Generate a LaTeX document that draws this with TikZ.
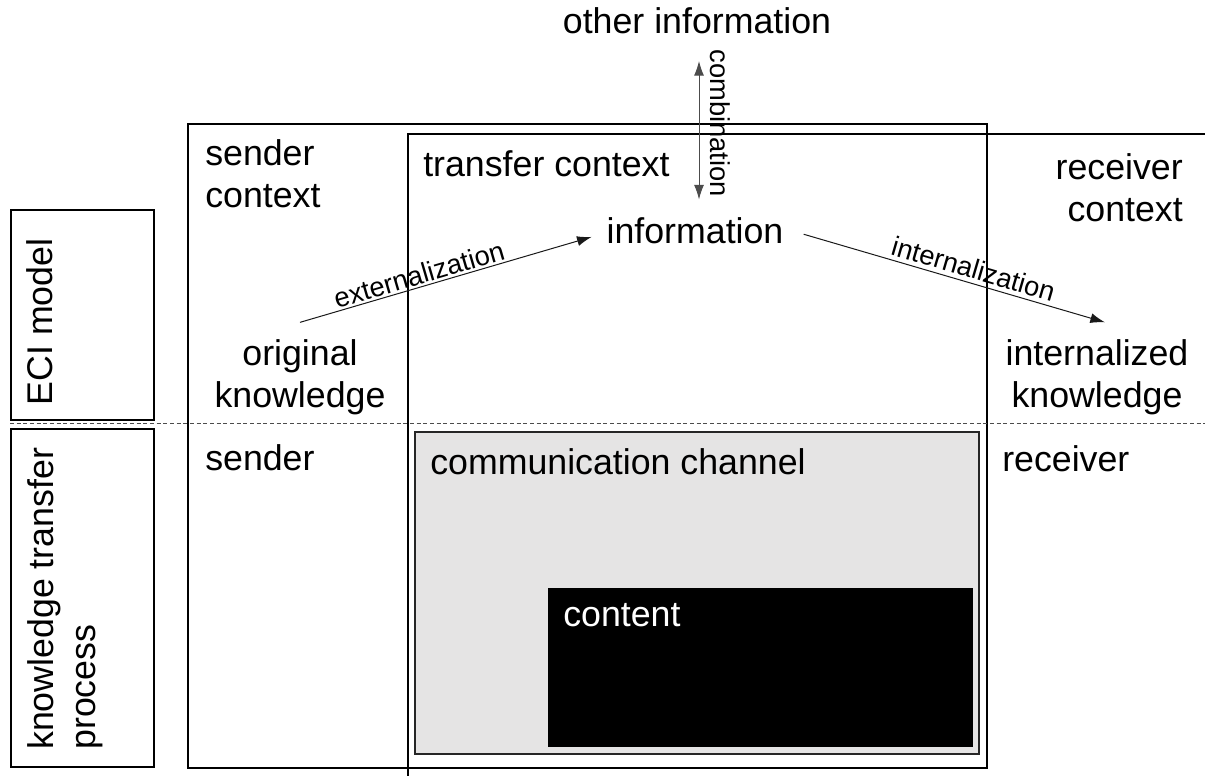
\documentclass[tikz,border=0pt]{standalone}
\usepackage{fontspec}
\setmainfont{Liberation Sans}
\usetikzlibrary{arrows.meta}
\begin{document}
\begin{tikzpicture}[x=0.75pt,y=-0.75pt,
  big/.style={font=\fontsize{26.8}{32}\selectfont, inner sep=0pt},
  small/.style={font=\fontsize{20.5}{24}\selectfont, inner sep=0pt},
  heavy/.style={draw, line width=1.3pt},
  thin/.style={draw, line width=0.8pt},
  flow/.style={draw=black!90, line width=0.75pt, -{Latex[length=11pt,width=7.5pt]}},
  twoway/.style={draw=black!70, line width=0.75pt, {Latex[length=11pt,width=7.5pt]}-{Latex[length=11pt,width=7.5pt]}}
]
\useasboundingbox (0,0) rectangle (1205,776);

% row labels on the left
\draw[heavy] (11,210) rectangle (154,420);
\draw[heavy] (11,429) rectangle (154,767);
\node[big, rotate=90] (eci) at (40,322) {ECI model};
\node[big, rotate=90, anchor=north west, align=left] (ktp) at (27,750) {knowledge transfer\\process};

% sender context frame
\draw[heavy] (188,124) rectangle (987,768);
% transfer context frame, open to the right and below
\draw[thin] (1205,134) -- (408,134) -- (408,776);

% separator between the two rows
\draw[black!70, line width=0.6pt, dash pattern=on 3pt off 2pt] (10,423) -- (1205,423);

% communication channel and its content
\draw[line width=1.4pt, draw=black!85, fill={rgb,255:red,229;green,228;blue,228}] (415,432) rectangle (979,754);
\fill[black] (548,588) rectangle (973,747);

% context labels
\node[big, anchor=north west, align=left] (sctx) at (205,139) {sender\\context};
\node[big, anchor=north west] (tctx) at (423,150) {transfer context};
\node[big, anchor=north east, align=right] (rctx) at (1183,153) {receiver\\context};

% ECI model elements
\node[big, anchor=base] (other) at (697,33) {other information};
\node[big, anchor=base] (info) at (695,243) {information};
\node[big, anchor=north, align=center] (orig) at (300,339) {original\\knowledge};
\node[big, anchor=north, align=center] (inter) at (1097,339) {internalized\\knowledge};

% knowledge transfer process elements
\node[big, anchor=north west] (snd) at (205,444) {sender};
\node[big, anchor=north west] (chan) at (430,448) {communication channel};
\node[big, anchor=north west] (rcv) at (1002,445) {receiver};
\node[big, anchor=north west, text=white] (cont) at (563,603) {content};

% transitions
\draw[flow] ([yshift=12.5pt]orig.north) -- ([xshift=-11pt,yshift=-5pt]info.west)
  node[small, sloped, above=1.5pt, pos=0.42] (ext) {externalization};
\draw[flow] ([xshift=15pt,yshift=-3pt]info.east) -- ([xshift=6pt,yshift=12.5pt]inter.north)
  node[small, sloped, above=3pt, pos=0.55] (int) {internalization};
\draw[twoway] ([xshift=1.5pt,yshift=-21pt]other.base) -- ([xshift=3pt,yshift=13pt]info.north)
  node[small, sloped, above=8pt, pos=0.45] (comb) {combination};
\end{tikzpicture}
\end{document}
